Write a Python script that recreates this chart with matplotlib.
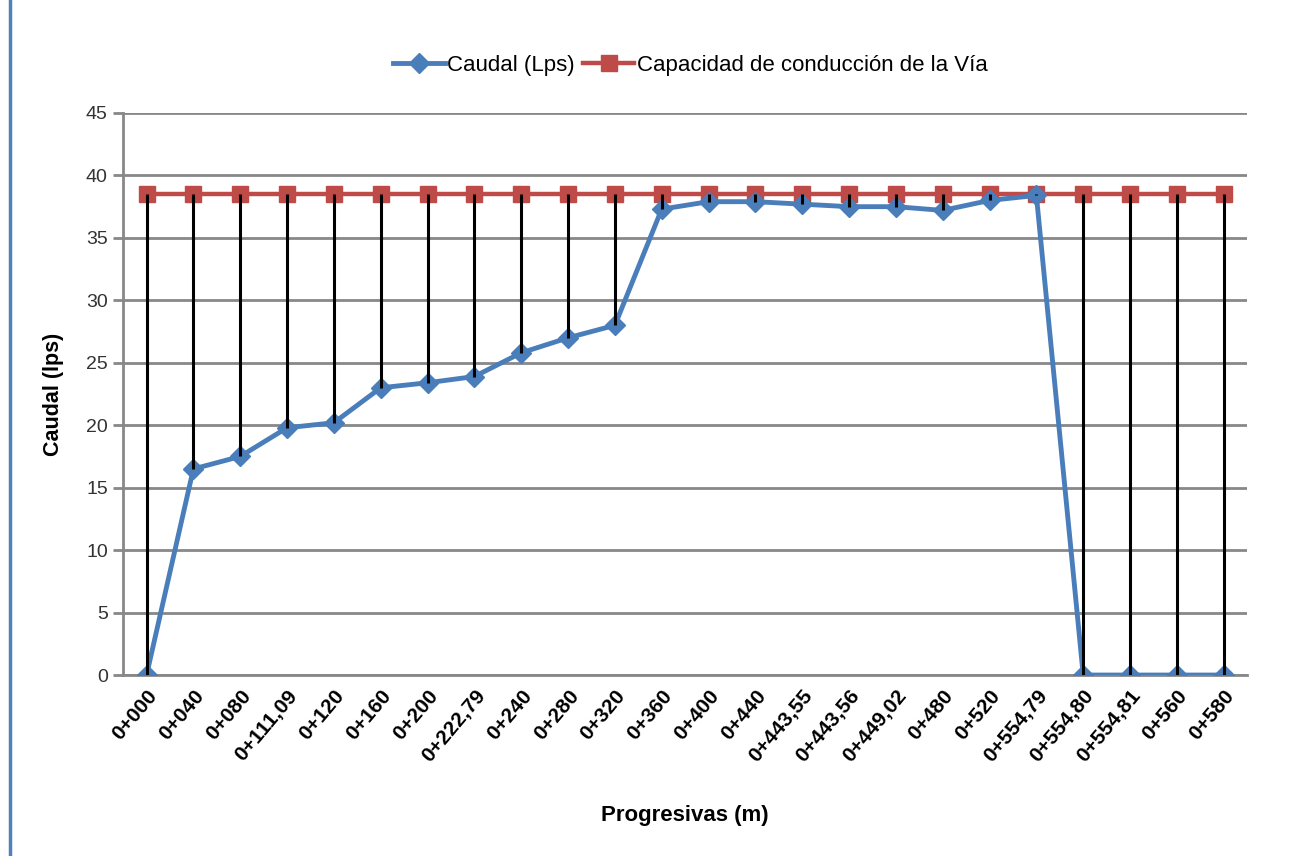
import matplotlib.pyplot as plt
from matplotlib.lines import Line2D

plt.rcParams['font.family'] = ['Liberation Sans', 'DejaVu Sans']

progresivas = ["0+000", "0+040", "0+080", "0+111,09", "0+120", "0+160", "0+200",
               "0+222,79", "0+240", "0+280", "0+320", "0+360", "0+400", "0+440",
               "0+443,55", "0+443,56", "0+449,02", "0+480", "0+520", "0+554,79",
               "0+554,80", "0+554,81", "0+560", "0+580"]
caudal = [0, 16.5, 17.5, 19.8, 20.2, 23.0, 23.4, 23.9, 25.8, 27.0, 28.0,
          37.3, 37.9, 37.9, 37.7, 37.5, 37.5, 37.2, 38.0, 38.4,
          0, 0, 0, 0]
capacidad = [38.5] * len(progresivas)


def plot_chart():
    fig = plt.figure(figsize=(13.1, 8.56), dpi=100)
    ax = fig.add_axes([0.094, 0.2114, 0.858, 0.6566])
    x = list(range(len(progresivas)))

    ax.plot(x, capacidad, color='#be4b48', lw=3.2, marker='s', markersize=11,
            label='Capacidad de conducción de la Vía', zorder=3)
    ax.plot(x, caudal, color='#4a7ebb', lw=3.5, marker='D', markersize=10,
            label='Caudal (Lps)', zorder=4)
    ax.vlines(x, caudal, capacidad, color='black', lw=2.2, zorder=5)

    ax.set_xlim(-0.5, len(progresivas) - 0.5)
    ax.set_ylim(0, 45)
    ax.set_yticks(range(0, 50, 5))
    ax.set_xticks(x)
    ax.set_xticklabels(progresivas, rotation=50, ha='right', va='top',
                       rotation_mode='anchor', fontweight='bold', fontsize=15)
    ax.tick_params(axis='y', labelsize=14, colors='#333333', length=7,
                   width=2, color='#888888', pad=4)
    ax.tick_params(axis='x', length=0, pad=8)
    ax.yaxis.grid(True, color='#888888', lw=2)
    ax.set_axisbelow(True)
    for side in ['top', 'right']:
        ax.spines[side].set_visible(False)
    for side in ['left', 'bottom']:
        ax.spines[side].set_color('#888888')
        ax.spines[side].set_linewidth(2)

    ax.set_ylabel('Caudal (lps)', fontweight='bold', fontsize=15.5, labelpad=16)
    fig.text(0.523, 0.047, 'Progresivas (m)', fontweight='bold', fontsize=16,
             ha='center', va='center')

    handles, labels = ax.get_legend_handles_labels()
    fig.legend(handles[::-1], labels[::-1], loc='center', ncol=2,
               bbox_to_anchor=(0.527, 0.924), frameon=False, fontsize=16,
               handlelength=2.3, handletextpad=0.1, columnspacing=0.4)

    fig.add_artist(Line2D([0.008, 0.008], [0, 1], color='#4f81bd', lw=2.5))

    fig.savefig('out.png')


def main():
    plot_chart()


if __name__ == "__main__":
    main()
